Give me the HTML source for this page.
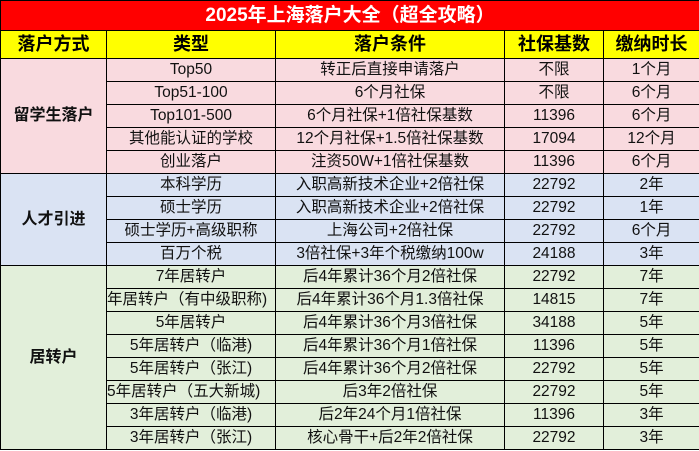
<!DOCTYPE html>
<html><head><meta charset="utf-8"><style>
body{margin:0;width:699px;height:451px;overflow:hidden;background:#fff;font-family:"Liberation Sans","Noto Sans CJK SC",sans-serif;}
table{position:absolute;left:0;top:0;border-collapse:collapse;table-layout:fixed;width:699px;}
td{border:1px solid #000;padding:0;text-align:center;white-space:nowrap;overflow:hidden;font-size:15.5px;color:#111;height:22px;line-height:22px;}
.t td{background:#ff0000;color:#fff;font-weight:bold;font-size:19px;height:29px;line-height:29px;}
.h td{background:#ffff00;font-weight:bold;font-size:18px;height:27px;line-height:27px;color:#000;}
.p td{background:#f9dadf;}
.b td{background:#dae3f3;}
.g td{background:#e2efda;}
.m{font-weight:bold;font-size:16px;}
</style></head><body>
<table>
<colgroup><col style="width:106px"><col style="width:169px"><col style="width:229px"><col style="width:99px"><col style="width:96px"></colgroup>
<tr class="t"><td colspan="5">2025年上海落户大全（超全攻略）</td></tr>
<tr class="h"><td>落户方式</td><td>类型</td><td>落户条件</td><td>社保基数</td><td>缴纳时长</td></tr>
<tr class="p"><td rowspan="5" class="m">留学生落户</td><td>Top50</td><td>转正后直接申请落户</td><td>不限</td><td>1个月</td></tr>
<tr class="p"><td>Top51-100</td><td>6个月社保</td><td>不限</td><td>6个月</td></tr>
<tr class="p"><td>Top101-500</td><td>6个月社保+1倍社保基数</td><td>11396</td><td>6个月</td></tr>
<tr class="p"><td>其他能认证的学校</td><td>12个月社保+1.5倍社保基数</td><td>17094</td><td>12个月</td></tr>
<tr class="p"><td>创业落户</td><td>注资50W+1倍社保基数</td><td>11396</td><td>6个月</td></tr>
<tr class="b"><td rowspan="4" class="m">人才引进</td><td>本科学历</td><td>入职高新技术企业+2倍社保</td><td>22792</td><td>2年</td></tr>
<tr class="b"><td>硕士学历</td><td>入职高新技术企业+2倍社保</td><td>22792</td><td>1年</td></tr>
<tr class="b"><td>硕士学历+高级职称</td><td>上海公司+2倍社保</td><td>22792</td><td>6个月</td></tr>
<tr class="b"><td>百万个税</td><td>3倍社保+3年个税缴纳100w</td><td>24188</td><td>3年</td></tr>
<tr class="g"><td rowspan="8" class="m">居转户</td><td>7年居转户</td><td>后4年累计36个月2倍社保</td><td>22792</td><td>7年</td></tr>
<tr class="g"><td style="text-align:left">年居转户（有中级职称)</td><td>后4年累计36个月1.3倍社保</td><td>14815</td><td>7年</td></tr>
<tr class="g"><td>5年居转户</td><td>后4年累计36个月3倍社保</td><td>34188</td><td>5年</td></tr>
<tr class="g"><td>5年居转户（临港)</td><td>后4年累计36个月1倍社保</td><td>11396</td><td>5年</td></tr>
<tr class="g"><td>5年居转户（张江)</td><td>后4年累计36个月2倍社保</td><td>22792</td><td>5年</td></tr>
<tr class="g"><td style="text-align:left">5年居转户（五大新城)</td><td>后3年2倍社保</td><td>22792</td><td>5年</td></tr>
<tr class="g"><td>3年居转户（临港)</td><td>后2年24个月1倍社保</td><td>11396</td><td>3年</td></tr>
<tr class="g"><td>3年居转户（张江)</td><td>核心骨干+后2年2倍社保</td><td>22792</td><td>3年</td></tr>
</table>
</body></html>
